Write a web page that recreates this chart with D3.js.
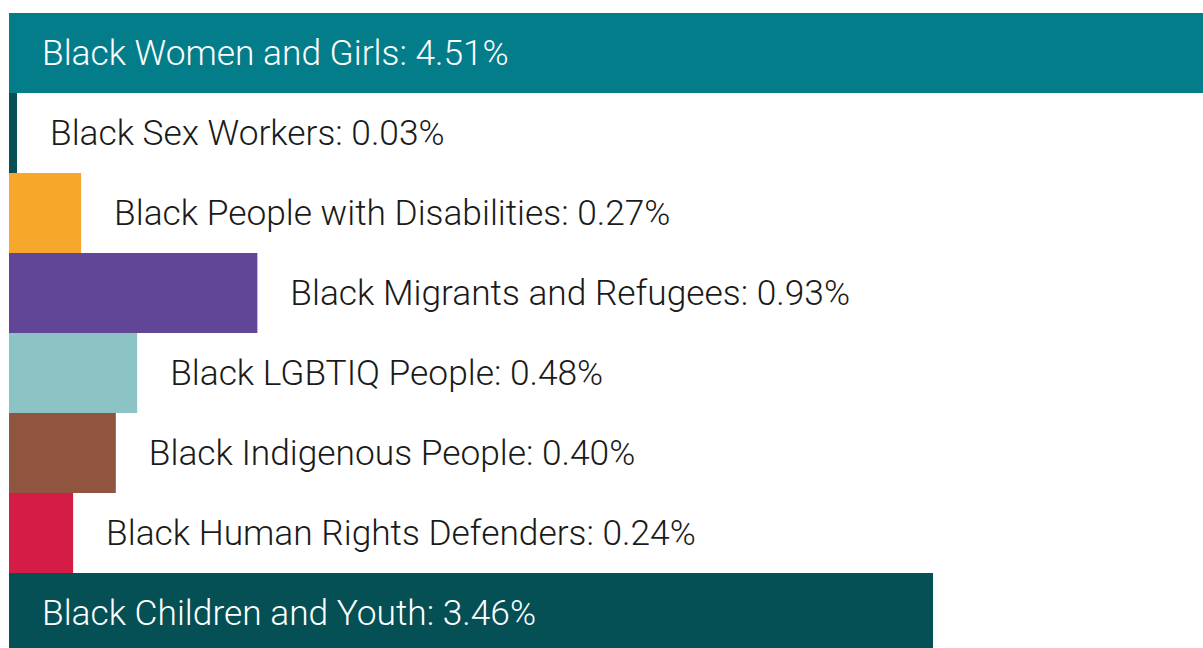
<html>
  <head>
    <style>
      body {
        margin:0;
        background:#fff;
      }
      .chart text {
        font-family:Roboto, "Open Sans", sans-serif;
        font-weight:300;
        font-size:35.3px;
      }
    </style>
  </head>
  <body>
    <div class="chart"></div>
    <script src="https://d3js.org/d3.v7.min.js"></script>
    <script>
      var categories = [
        "Black Women and Girls",
        "Black Sex Workers",
        "Black People with Disabilities",
        "Black Migrants and Refugees",
        "Black LGBTIQ People",
        "Black Indigenous People",
        "Black Human Rights Defenders",
        "Black Children and Youth"
      ];
      var shares = [4.51, 0.03, 0.27, 0.93, 0.48, 0.40, 0.24, 3.46];
      var colors = ["#047d8b", "#055055", "#f7a82c", "#614596", "#8cc3c5", "#8f553f", "#d51c47", "#055055"];

      var width = 1203;
      var height = 648;

      var svg = d3.select(".chart").append("svg")
        .attr("width", width)
        .attr("height", height);

      var x = d3.scaleLinear()
        .domain([0, 3.46])
        .range([9, 933]);

      var y = d3.scaleBand()
        .domain(categories)
        .range([13, 13 + 80 * categories.length])
        .padding(0);

      var rows = svg.selectAll("g.row")
        .data(categories)
        .enter().append("g")
        .attr("class", "row")
        .attr("transform", function (d) { return "translate(0," + y(d) + ")"; });

      rows.append("rect")
        .attr("x", x(0))
        .attr("y", 0)
        .attr("width", function (d, i) { return x(shares[i]) - x(0); })
        .attr("height", y.bandwidth())
        .attr("fill", function (d, i) { return colors[i]; });

      // big bars carry their label inside, the rest get it just past the end
      rows.append("text")
        .attr("x", function (d, i) {
          return shares[i] > 2 ? x(0) + 33 : x(shares[i]) + 33;
        })
        .attr("y", 51.5)
        .attr("fill", function (d, i) { return shares[i] > 2 ? "#ffffff" : "#1a1a1a"; })
        .text(function (d, i) { return d + ": " + shares[i].toFixed(2) + "%"; });
    </script>
  </body>
</html>
